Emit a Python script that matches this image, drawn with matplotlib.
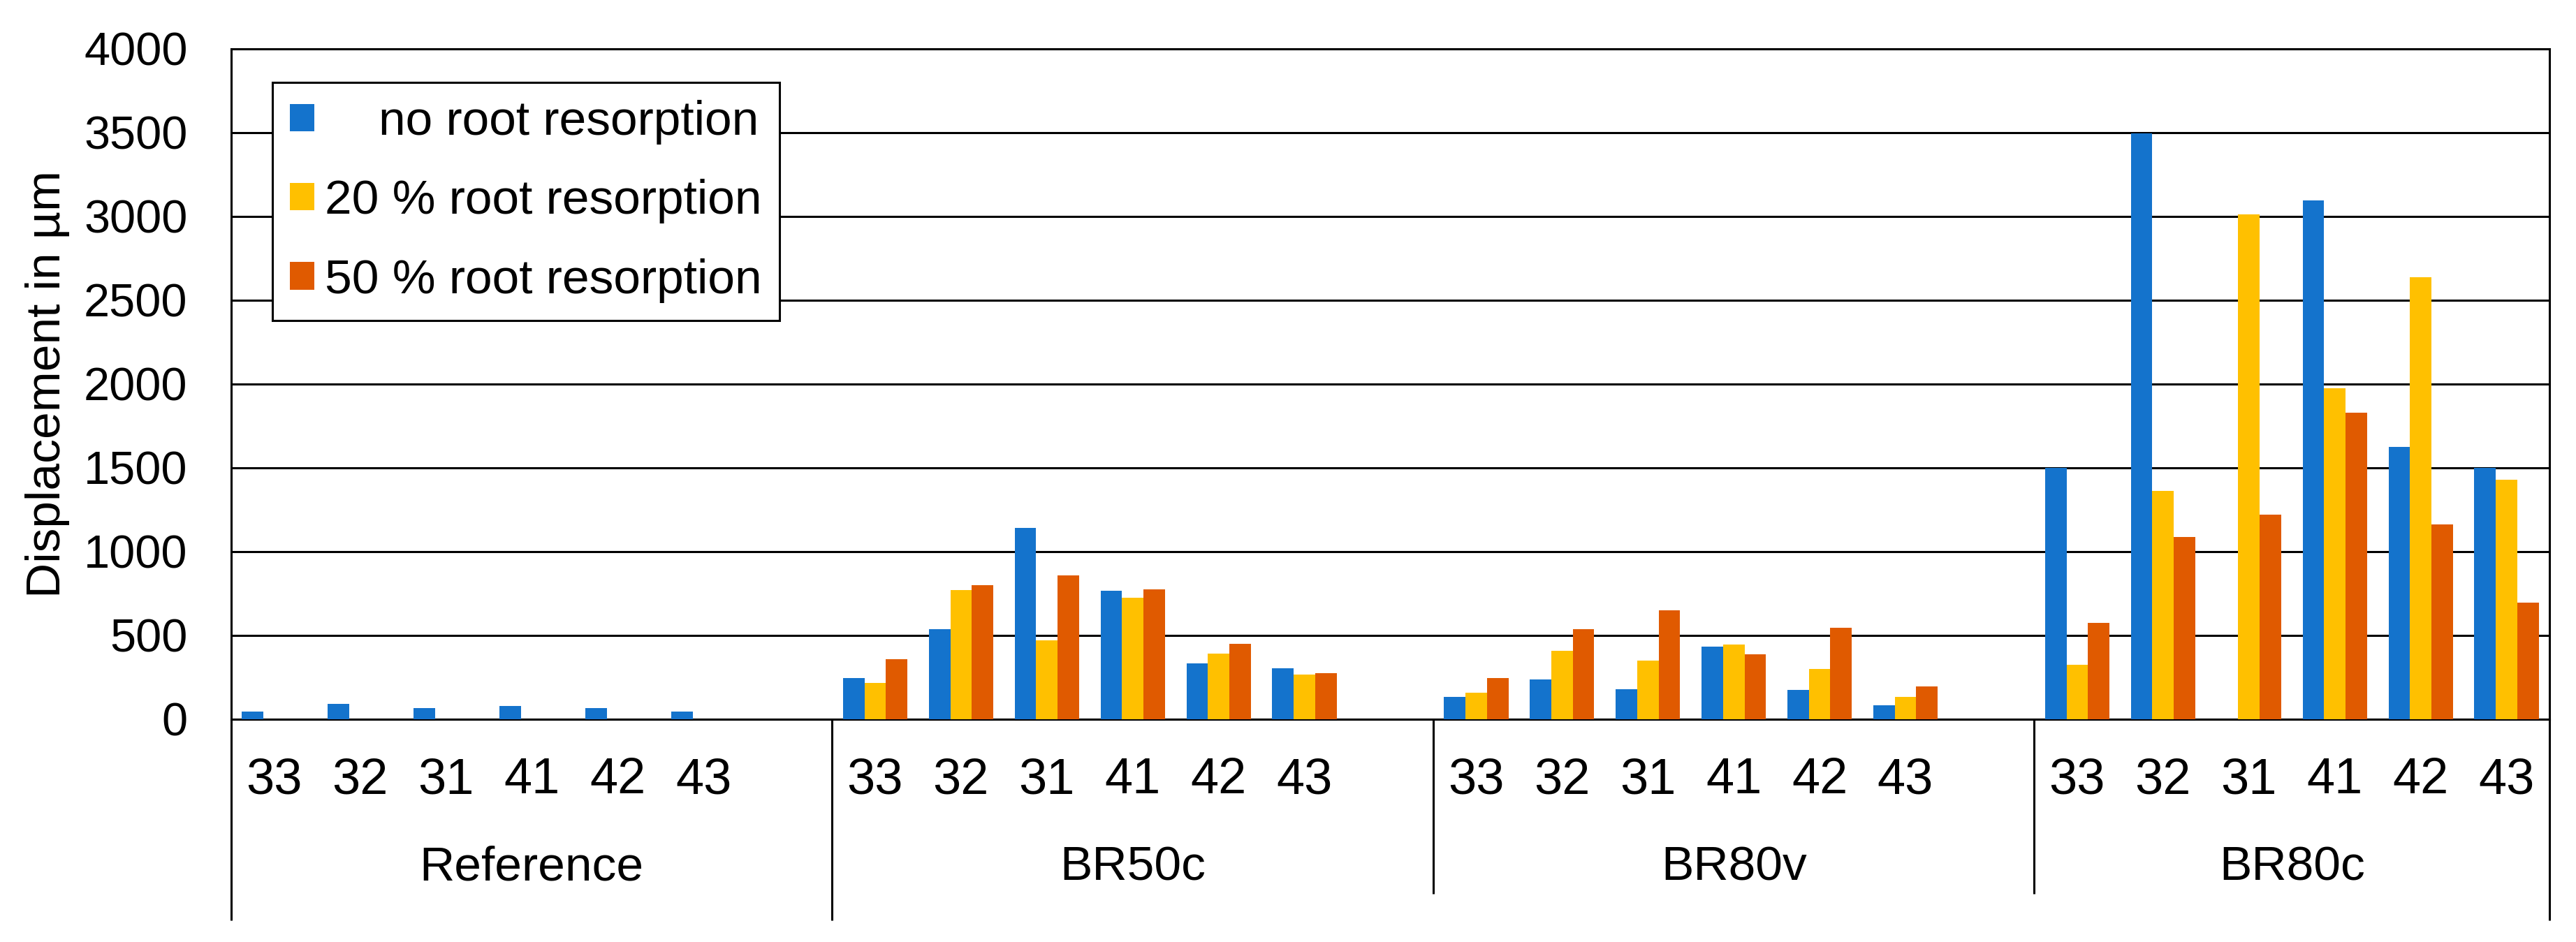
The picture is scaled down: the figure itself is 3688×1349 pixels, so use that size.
import numpy as np
import matplotlib
matplotlib.use("Agg")
import matplotlib.pyplot as plt
from matplotlib.patches import Patch

plt.rcParams['font.family'] = ['Liberation Sans', 'DejaVu Sans']

groups = ["Reference", "BR50c", "BR80v", "BR80c"]
teeth = ["33", "32", "31", "41", "42", "43"]
series_names = ["    no root resorption", "20 % root resorption", "50 % root resorption"]
colors = ["#1473CC", "#FFC000", "#E05A00"]

nan = np.nan
no_resorption = [45, 93, 67, 79, 67, 44,
                 244, 536, 1142, 766, 333, 304,
                 132, 237, 181, 432, 173, 82,
                 1500, 3497, nan, 3094, 1623, 1500]
res20 = [nan, nan, nan, nan, nan, nan,
         216, 770, 469, 727, 393, 265,
         157, 407, 348, 444, 301, 132,
         325, 1363, 3012, 1977, 2637, 1430]
res50 = [nan, nan, nan, nan, nan, nan,
         358, 801, 859, 776, 451, 277,
         244, 536, 652, 386, 546, 195,
         573, 1088, 1219, 1830, 1161, 696]
yticks = list(range(0, 4001, 500))

series = [no_resorption, res20, res50]

fig = plt.figure(figsize=(36.88, 13.49), dpi=100)
ax = fig.add_axes([331/3688, 1-1030/1349, (3650-331)/3688, (1030-70)/1349])

slots = 7
pos = np.array([g*slots + i for g in range(len(groups)) for i in range(len(teeth))], dtype=float)
bw = 0.25
for k, (vals, col) in enumerate(zip(series, colors)):
    ax.bar(pos + (k-1)*bw, np.array(vals, dtype=float), width=bw, color=col,
           edgecolor='none', zorder=3)

ax.set_xlim(-0.5, 26.5)
ax.set_ylim(0, 4000)
ax.set_yticks(yticks)
ax.set_yticklabels([str(t) for t in yticks], fontsize=48)
ax.tick_params(axis='y', length=0, pad=45)
ax.set_xticks(pos)
ax.set_xticklabels([teeth[i % len(teeth)] for i in range(len(pos))], fontsize=52)
ax.tick_params(axis='x', length=0, pad=39)
ax.yaxis.grid(True, color='black', linewidth=2.2)
ax.set_axisbelow(True)
for s in ax.spines.values():
    s.set_color('black')
    s.set_linewidth(2.2)

ax.set_ylabel("Displacement in µm", fontsize=50, va='center')
ax.yaxis.set_label_coords(-0.0792, 0.5)

trans = ax.get_xaxis_transform()
for g, name in enumerate(groups):
    start = g*slots - 0.5
    end = min(start + slots, 26.5)
    ax.text((start+end)/2, -0.2396, name, transform=trans, ha='center',
            va='baseline', fontsize=50)
sep_x = [-0.5, 6.5, 13.5, 20.5, 26.5]
sep_len = [-0.30, -0.30, -0.26, -0.26, -0.30]
for x, yb in zip(sep_x, sep_len):
    ax.plot([x, x], [0, yb], transform=trans, color='black', lw=2.2,
            clip_on=False, solid_capstyle='butt')

handles = [Patch(facecolor=c, edgecolor='none') for c in colors]
leg = ax.legend(handles, series_names, loc='upper left',
                bbox_to_anchor=((390-331)/3319, (1030-118)/960),
                borderaxespad=0, fontsize=50, handlelength=0.5, handleheight=0.5,
                handletextpad=0.22, labelspacing=0.71, borderpad=0.36,
                fancybox=False, framealpha=1, edgecolor='black')
leg.get_frame().set_linewidth(2.2)

fig.savefig("out.png", dpi=100, facecolor='white')
